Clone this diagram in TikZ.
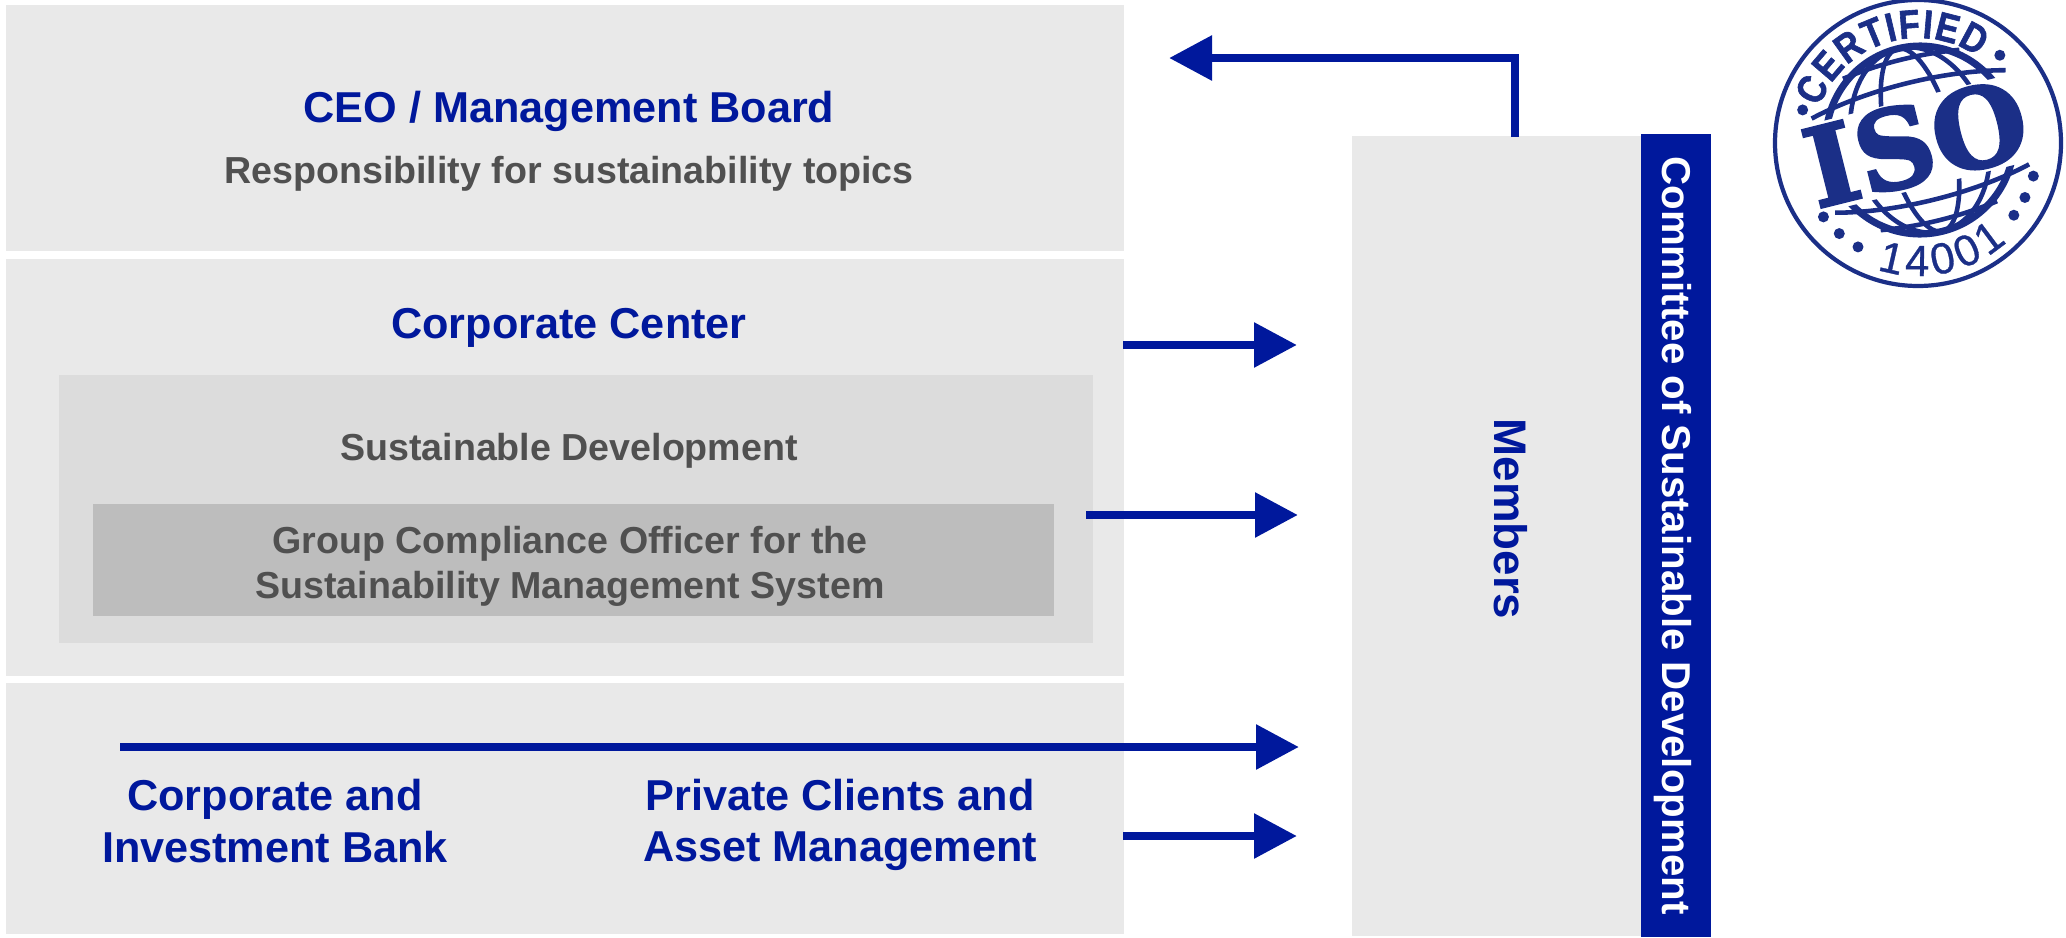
\documentclass[tikz,border=0pt]{standalone}
\usepackage{fontspec}
\setmainfont{Liberation Sans}
\newfontfamily\isofont[BoldFeatures={FakeBold=2.5}]{DejaVu Serif}
\newfontfamily\stampfont[BoldFeatures={FakeBold=1.5,FakeStretch=0.85}]{Liberation Sans}
\newfontfamily\digitfont[FakeBold=0.7]{Liberation Sans}
\usetikzlibrary{arrows.meta,decorations.text}
\definecolor{navy}{HTML}{00189C}
\definecolor{stampblue}{HTML}{1B2F87}
\definecolor{textgrey}{HTML}{505050}
\definecolor{panelgrey}{HTML}{E9E9E9}
\definecolor{midgrey}{HTML}{DCDCDC}
\definecolor{darkgrey}{HTML}{BDBDBD}
\tikzset{
  panel/.style={fill=#1,inner sep=0pt,anchor=south west},
  title/.style={text=navy,font=\fontsize{12.3}{14.6}\selectfont\bfseries,align=center},
  subtitle/.style={text=textgrey,font=\fontsize{10.7}{12.8}\selectfont\bfseries,align=center},
  flow/.style={draw=navy,line width=2.55pt,-{Triangle[length=4.3mm,width=4.3mm]}},
  stampdot/.style={fill=stampblue,circle,inner sep=0pt,minimum size=1.1mm}
}
\begin{document}
\begin{tikzpicture}
  \useasboundingbox (0,0) rectangle (20.66,9.37);
  % left column
  \node[panel=panelgrey,minimum width=11.18cm,minimum height=2.46cm] (board) at (0.05,6.85) {};
  \node[panel=panelgrey,minimum width=11.18cm,minimum height=4.17cm] (center) at (0.05,2.60) {};
  \node[panel=panelgrey,minimum width=11.18cm,minimum height=2.51cm] (divisions) at (0.05,0.02) {};
  \node[panel=midgrey,minimum width=10.34cm,minimum height=2.68cm] (sustain) at (0.58,2.93) {};
  \node[panel=darkgrey,minimum width=9.61cm,minimum height=1.12cm] (officer) at (0.92,3.20) {};
  \node[title] (boardtitle) at (5.69,8.26) {CEO / Management Board};
  \node[subtitle] (boardtext) at (5.69,7.63) {Responsibility for sustainability topics};
  \node[title] (centertitle) at (5.69,6.09) {Corporate Center};
  \node[subtitle] (sustaintext) at (5.69,4.86) {Sustainable Development};
  \node[subtitle] (officertext) at (5.70,3.71) {Group Compliance Officer for the\\Sustainability Management System};
  \node[title] (cib) at (2.75,1.16) {Corporate and\\Investment Bank};
  \node[title] (pcam) at (8.40,1.12) {Private Clients and\\Asset Management};
  % committee
  \node[panel=panelgrey,minimum width=2.89cm,minimum height=8.00cm] (members) at (13.51,0) {};
  \node[fill=navy,text=white,font=\fontsize{11.45}{14}\selectfont\bfseries,rotate=-90,inner sep=0pt,text depth=0.5pt,
    minimum width=8.03cm,minimum height=0.70cm] (committee) at (16.76,4.015) {Committee of Sustainable Development};
  \node[text=navy,font=\fontsize{13}{15}\selectfont\bfseries,rotate=-90] (memberstext) at (15.11,4.18) {Members};
  % arrows
  \coordinate (boardout) at (15.15,8.00);
  \coordinate (boardtip) at (11.69,8.79);
  \coordinate (centerout) at (11.23,5.92);
  \coordinate (centertip) at (12.97,5.92);
  \coordinate (sustainout) at (10.86,4.22);
  \coordinate (sustaintip) at (12.98,4.22);
  \coordinate (cibout) at (1.20,1.90);
  \coordinate (cibtip) at (12.99,1.90);
  \coordinate (pcamout) at (11.23,1.01);
  \coordinate (pcamtip) at (12.97,1.01);
  \draw[flow] (boardout) |- (boardtip);
  \draw[flow] (centerout) -- (centertip);
  \draw[flow] (sustainout) -- (sustaintip);
  \draw[flow] (cibout) -- (cibtip);
  \draw[flow] (pcamout) -- (pcamtip);
  % stamp
  \begin{scope}[shift={(19.18,7.94)},stampblue]
    \draw[line width=1.2pt] (0,0) circle (1.43);
    \path[decorate,decoration={text along path,text align={fit to path},
      text={|\stampfont\fontsize{11.5}{11.5}\selectfont\bfseries\color{stampblue}|CERTIFIED}}]
      (160:1.05) arc[start angle=160,end angle=55,radius=1.05];
    \path[decorate,decoration={text along path,text align={fit to path},
      text={|\digitfont\fontsize{12.4}{12.4}\selectfont\color{stampblue}|14001}}]
      (252:1.33) arc[start angle=252,end angle=312,radius=1.33];
    \foreach \p in {164,47,-16,-27,-37,218,229,240}
      \node[stampdot] at (\p:1.2) {};
    \begin{scope}[shift={(0.02,0.03)},rotate=14]
      \begin{scope}
        \clip (-1.1,0.42) rectangle (1.1,1.1);
        \draw[line width=2pt] (0,0) circle (0.94);
        \draw[line width=1.3pt] (0,0) ellipse (0.33 and 0.94);
        \draw[line width=1.3pt] (0,0) ellipse (0.68 and 0.94);
        \draw[line width=1.3pt] (-1,0.47) .. controls (-0.4,0.62) and (0.4,0.62) .. (1,0.47);
        \draw[line width=1.3pt] (-0.6,0.78) .. controls (-0.2,0.84) and (0.2,0.84) .. (0.6,0.78);
      \end{scope}
      \begin{scope}
        \clip (-1.1,-1.1) rectangle (1.1,-0.47);
        \draw[line width=2pt] (0,0) circle (0.94);
        \draw[line width=1.3pt] (0,0) ellipse (0.33 and 0.94);
        \draw[line width=1.3pt] (0,0) ellipse (0.68 and 0.94);
        \draw[line width=1.3pt] (-1,-0.5) .. controls (-0.4,-0.65) and (0.4,-0.65) .. (1,-0.5);
        \draw[line width=1.3pt] (-0.6,-0.78) .. controls (-0.2,-0.84) and (0.2,-0.84) .. (0.6,-0.78);
      \end{scope}
    \end{scope}
    \node[text=stampblue,rotate=14,font=\isofont\fontsize{31}{31}\selectfont\bfseries,inner sep=0pt] (isotext) at (-0.02,0) {ISO};
  \end{scope}
\end{tikzpicture}
\end{document}
